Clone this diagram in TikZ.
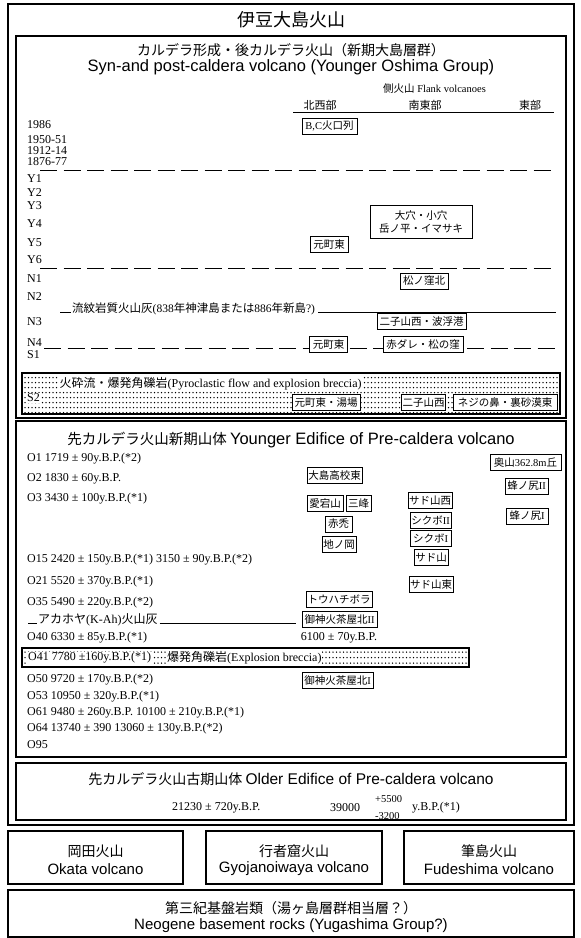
\documentclass[tikz,border=0pt]{standalone}
\usepackage{fontspec}
\setmainfont{Liberation Serif}
\newfontfamily\jpf{Noto Sans CJK JP}
\newfontfamily\sansf{Liberation Sans}
\newcommand\J[1]{{\jpf #1}}
\begin{document}
\begin{tikzpicture}[x=1pt,y=-1pt,
  frame/.style={draw,line width=1.6pt},
  lbl/.style={draw,line width=0.6pt,inner sep=1pt,fill=white,minimum height=16pt,font=\jpf\fontsize{10.5}{12}\selectfont},
  rowtxt/.style={anchor=west,inner sep=0pt,font=\fontsize{12}{13}\selectfont},
  dline/.style={line width=0.9pt,dash pattern=on 17pt off 6.5pt},
  solidl/.style={line width=0.8pt},
  jtitle/.style={inner sep=0pt,font=\jpf\fontsize{14}{16}\selectfont},
  etitle/.style={inner sep=0pt,font=\sansf\fontsize{15}{17}\selectfont},
  dotrow/.style={line width=1.5pt,line cap=round,dash pattern=on 0pt off 3.5pt},
  hdr/.style={inner sep=0pt,font=\jpf\fontsize{11}{12}\selectfont},
]
\useasboundingbox (0,0) rectangle (581,938);
\fill[white] (0,0) rectangle (581,938);

% ---------- outer frame ----------
\draw[frame] (8,4) rectangle (574,825);
\node[inner sep=0pt,font=\jpf\fontsize{18}{20}\selectfont] (main) at (291,20) {伊豆大島火山};

% ---------- section 1 ----------
\draw[frame] (16,36) rectangle (566,418);
\node[jtitle] (s1j) at (291,50) {カルデラ形成・後カルデラ火山（新期大島層群）};
\node[etitle,font=\sansf\fontsize{16.5}{18}\selectfont] (s1e) at (291,67) {Syn-and post-caldera volcano (Younger Oshima Group)};
\node[anchor=west,inner sep=0pt,font=\fontsize{10.5}{12}\selectfont] (flank) at (383,89) {\J{側火山}\ Flank volcanoes};
\node[hdr] (nw) at (320,105) {北西部};
\node[hdr] (se) at (425,105) {南東部};
\node[hdr] (ea) at (530,105) {東部};
\coordinate (ulA) at (293,112);
\coordinate (ulB) at (554,112);
\draw[line width=1pt] (ulA) -- (ulB);

\node[rowtxt] (t1986) at (27,125) {1986};
\node[rowtxt] (t1950) at (27,140) {1950-51};
\node[rowtxt] (t1912) at (27,151) {1912-14};
\node[rowtxt] (t1876) at (27,162) {1876-77};
\coordinate (d1a) at (40,170); \coordinate (d1b) at (556,170);
\draw[dline] (d1a) -- (d1b);
\node[rowtxt] (tY1) at (27,179) {Y1};
\node[rowtxt] (tY2) at (27,193) {Y2};
\node[rowtxt] (tY3) at (27,206) {Y3};
\node[rowtxt] (tY4) at (27,224) {Y4};
\node[rowtxt] (tY5) at (27,243) {Y5};
\node[rowtxt] (tY6) at (27,260) {Y6};
\coordinate (d2a) at (40,268); \coordinate (d2b) at (556,268);
\draw[dline] (d2a) -- (d2b);
\node[rowtxt] (tN1) at (27,279) {N1};
\node[rowtxt] (tN2) at (27,297) {N2};
\node[rowtxt] (tN3) at (27,322) {N3};
\node[rowtxt] (tN4) at (27,343) {N4};
\node[rowtxt] (tS1) at (27,355) {S1};
\coordinate (d3a) at (44,348); \coordinate (d3b) at (556,348);
\draw[dline] (d3a) -- (d3b);

% rhyolitic ash
\node[anchor=base west,inner sep=0pt,font=\fontsize{11.5}{12}\selectfont] (ash) at (72,312) {\J{流紋岩質火山灰}(838\J{年神津島または}886\J{年新島}?)};
\coordinate (ashL) at (60,312); \coordinate (ashR) at (556,312);
\draw[solidl] (ashL) -- ([xshift=-1pt]ash.base west);
\draw[solidl] ([xshift=3pt]ash.base east) -- (ashR);

% flank vent labels
\node[lbl,minimum width=55pt] (bc) at (329.5,126) {{\rmfamily B,C}火口列};
\node[lbl,minimum width=102pt,minimum height=33pt,align=center] (oana) at (421,221.5) {大穴・小穴\\[1pt]岳ノ平・イマサキ};
\node[lbl,minimum width=38pt] (moto1) at (329,244.5) {元町東};
\node[lbl,minimum width=48pt] (matsu) at (424,281) {松ノ窪北};
\node[lbl,minimum width=89pt] (futa) at (421.5,321.5) {二子山西・波浮港};
\node[lbl,minimum width=38pt] (moto2) at (328.5,344.5) {元町東};
\node[lbl,minimum width=80pt] (akad) at (423,344.5) {赤ダレ・松の窪};

% pyroclastic flow dotted box
\foreach \yy in {377.5,382.5,...,412.5} \draw[dotrow] (25,\yy) -- (559,\yy);
\draw[frame] (22,373) rectangle (560,414);
\node[anchor=west,inner sep=1.5pt,fill=white,font=\fontsize{12}{13}\selectfont] (pyro) at (58,383.5) {\J{火砕流・爆発角礫岩}(Pyroclastic flow and explosion breccia)};
\node[anchor=west,inner sep=1pt,fill=white,font=\fontsize{12}{13}\selectfont] (tS2) at (26,398) {S2};
\node[lbl,minimum width=68pt] (yuba) at (326,402.5) {元町東・湯場};
\node[lbl,minimum width=43pt] (futa2) at (423.5,402.5) {二子山西};
\node[lbl,minimum width=104pt] (neji) at (505,402.5) {ネジの鼻・裏砂漠東};

% ---------- section 2 ----------
\draw[frame] (16,421) rectangle (566,757);
\node[inner sep=0pt] (s2t) at (291,440) {\jpf\fontsize{14.5}{16}\selectfont 先カルデラ火山新期山体\ \sansf\fontsize{16.5}{18}\selectfont Younger Edifice of Pre-caldera volcano};

\node[rowtxt] (o1) at (27,459) {O1 1719 ± 90y.B.P.(*2)};
\node[rowtxt] (o2) at (27,479) {O2 1830 ± 60y.B.P.};
\node[rowtxt] (o3) at (27,499) {O3 3430 ± 100y.B.P.(*1)};
\node[rowtxt] (o15) at (27,560) {O15 2420 ± 150y.B.P.(*1) 3150 ± 90y.B.P.(*2)};
\node[rowtxt] (o21) at (27,582) {O21 5520 ± 370y.B.P.(*1)};
\node[rowtxt] (o35) at (27,603) {O35 5490 ± 220y.B.P.(*2)};
\node[anchor=base west,inner sep=0pt,font=\fontsize{12}{13}\selectfont] (kah) at (38,623) {\J{アカホヤ}(K-Ah)\J{火山灰}};
\coordinate (kahL) at (28,623); \coordinate (kahR) at (296,623);
\draw[solidl] (kahL) -- ([xshift=-1pt]kah.base west);
\draw[solidl] ([xshift=2pt]kah.base east) -- (kahR);
\node[rowtxt] (o40) at (27,638) {O40 6330 ± 85y.B.P.(*1)};

% explosion breccia dotted box
\foreach \yy in {652,657.5,663} \draw[dotrow] (25,\yy) -- (467,\yy);
\draw[frame] (22,648) rectangle (469,667);
\node[anchor=west,inner sep=1pt,fill=white,font=\fontsize{12}{13}\selectfont] (o41) at (27,658) {O41 7780 ±160y.B.P.(*1)};
\node[anchor=west,inner sep=1pt,fill=white,font=\fontsize{12}{13}\selectfont] (expl) at (166,658) {\J{爆発角礫岩}(Explosion breccia)};

\node[rowtxt] (o50) at (27,680) {O50 9720 ± 170y.B.P.(*2)};
\node[rowtxt] (o53) at (27,697) {O53 10950 ± 320y.B.P.(*1)};
\node[rowtxt] (o61) at (27,713) {O61 9480 ± 260y.B.P. 10100 ± 210y.B.P.(*1)};
\node[rowtxt] (o64) at (27,729) {O64 13740 ± 390 13060 ± 130y.B.P.(*2)};
\node[rowtxt] (o95) at (27,745) {O95};

\node[lbl,minimum width=71pt] (okuyama) at (525.5,462.5) {奥山{\rmfamily 362.8m}丘};
\node[lbl,minimum width=55pt] (oshima) at (334.5,475) {大島高校東};
\node[lbl,minimum width=43pt] (hachi2) at (526.5,486) {蜂ノ尻{\rmfamily II}};
\node[lbl,minimum width=36pt] (atago) at (325,503.5) {愛宕山};
\node[lbl,minimum width=25pt] (mitsu) at (358.5,503.5) {三峰};
\node[lbl,minimum width=44pt] (sadow) at (430,500.5) {サド山西};
\node[lbl,minimum width=42pt] (hachi1) at (527,516) {蜂ノ尻{\rmfamily I}};
\node[lbl,minimum width=41pt] (shik2) at (430.5,520) {シクボ{\rmfamily II}};
\node[lbl,minimum width=27pt] (akahage) at (338.5,524) {赤禿};
\node[lbl,minimum width=41pt] (shik1) at (430.5,538) {シクボ{\rmfamily I}};
\node[lbl,minimum width=34pt] (jino) at (339,544.5) {地ノ岡};
\node[lbl,minimum width=34pt] (sado) at (431,557.5) {サド山};
\node[lbl,minimum width=42pt] (sadoe) at (431,584.5) {サド山東};
\node[lbl,minimum width=66pt] (tou) at (339,599.5) {トウハチボラ};
\node[lbl,minimum width=75pt] (gojin2) at (339.5,619.5) {御神火茶屋北{\rmfamily II}};
\node[inner sep=0pt,font=\fontsize{12}{13}\selectfont] (d6100) at (339,638) {6100 ± 70y.B.P.};
\node[lbl,minimum width=71pt] (gojin1) at (337.5,680.5) {御神火茶屋北{\rmfamily I}};

% ---------- older edifice ----------
\draw[frame] (16,763) rectangle (566,820);
\node[inner sep=0pt] (s3t) at (291,779) {\jpf\fontsize{14}{16}\selectfont 先カルデラ火山古期山体\ \sansf\fontsize{15.5}{17}\selectfont Older Edifice of Pre-caldera volcano};
\node[rowtxt] (a21230) at (172,808) {21230 ± 720y.B.P.};
\node[rowtxt] (a39000) at (330,808) {39000};
\node[anchor=west,inner sep=0pt,font=\fontsize{10.5}{11}\selectfont] (plus) at (375,799) {+5500};
\node[anchor=west,inner sep=0pt,font=\fontsize{10.5}{11}\selectfont] (minus) at (375,816) {-3200};
\node[rowtxt] (ybp) at (412,808) {y.B.P.(*1)};

% ---------- bottom boxes ----------
\draw[frame] (8,831) rectangle (183,884);
\node[jtitle] (okj) at (95.5,851) {岡田火山};
\node[etitle] (oke) at (95.5,869) {Okata volcano};
\draw[frame] (206,831) rectangle (382,884);
\node[jtitle] (gyj) at (294,851) {行者窟火山};
\node[etitle] (gye) at (294,869) {Gyojanoiwaya volcano};
\draw[frame] (404,831) rectangle (574,884);
\node[jtitle] (fuj) at (489,851) {筆島火山};
\node[etitle] (fue) at (489,869) {Fudeshima volcano};
\draw[frame] (8,890) rectangle (574,937);
\node[jtitle] (neoj) at (291,908) {第三紀基盤岩類（湯ヶ島層群相当層？）};
\node[etitle] (neoe) at (291,926) {Neogene basement rocks (Yugashima Group?)};
\end{tikzpicture}
\end{document}
